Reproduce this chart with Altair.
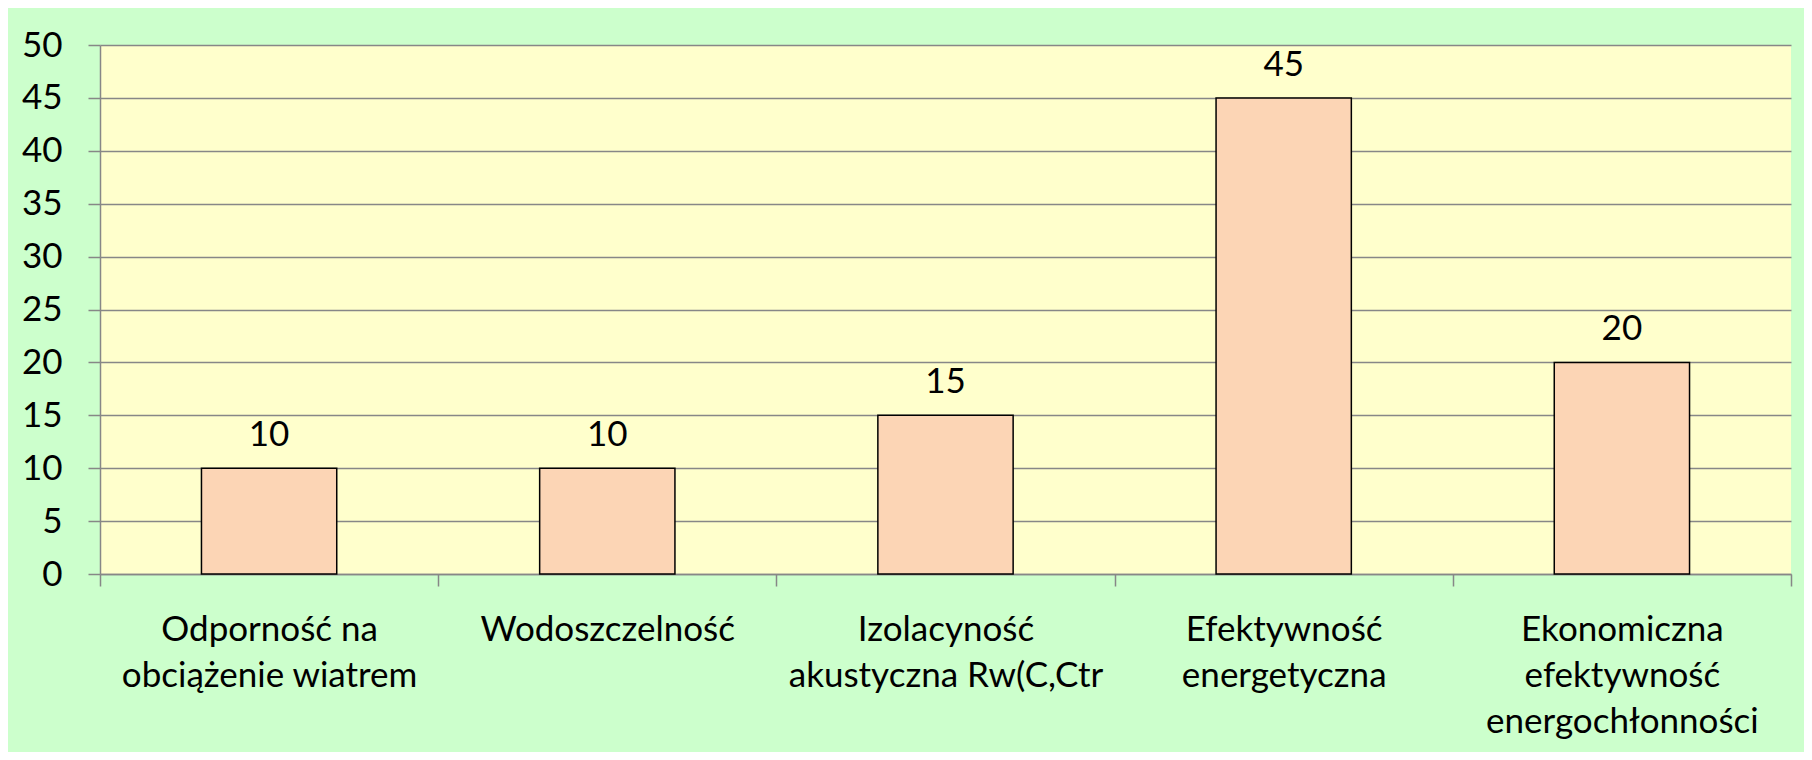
import altair as alt
import pandas as pd

categories = [
    "Odporność na\nobciążenie wiatrem",
    "Wodoszczelność",
    "Izolacyność\nakustyczna Rw(C,Ctr",
    "Efektywność\nenergetyczna",
    "Ekonomiczna\nefektywność\nenergochłonności",
]
values = [10, 10, 15, 45, 20]
y_ticks = [0, 5, 10, 15, 20, 25, 30, 35, 40, 45, 50]

df = pd.DataFrame({"cat": categories, "val": values})

FONT = "Lato"
GRID = "#878787"

x_enc = alt.X(
    "cat:N",
    sort=None,
    title=None,
    scale=alt.Scale(paddingInner=0, paddingOuter=0),
    axis=alt.Axis(
        labelAngle=0,
        labelExpr="split(datum.label, '\\n')",
        labelFont=FONT,
        labelFontSize=35,
        labelColor="#000000",
        labelLineHeight=46,
        labelBaseline="alphabetic",
        labelPadding=54,
        labelLimit=0,
        tickBand="extent",
        tickSize=12,
        tickColor=GRID,
        tickWidth=1.5,
        domainColor=GRID,
        domainWidth=1.5,
        grid=False,
    ),
)

y_enc = alt.Y(
    "val:Q",
    title=None,
    scale=alt.Scale(domain=[0, 50], nice=False),
    axis=alt.Axis(
        values=y_ticks,
        labelFont=FONT,
        labelFontSize=35,
        labelColor="#000000",
        labelPadding=26,
        tickSize=12,
        tickColor=GRID,
        tickWidth=1.5,
        domainColor=GRID,
        domainWidth=1.5,
        grid=True,
        gridColor=GRID,
        gridWidth=1.5,
    ),
)

bars = alt.Chart(df).mark_bar(
    width=alt.RelativeBandSize(0.4),
    fill="#FCD5B5",
    stroke="#000000",
    strokeWidth=1.5,
).encode(x=x_enc, y=y_enc)

labels = alt.Chart(df).mark_text(
    font=FONT,
    fontSize=35,
    color="#000000",
    baseline="alphabetic",
    dy=-22,
).encode(x=alt.X("cat:N", sort=None), y=alt.Y("val:Q"), text=alt.Text("val:Q"))

chart = (
    alt.layer(bars, labels)
    .properties(
        width=1691,
        height=529,
        autosize=alt.AutoSizeParams(type="none"),
        padding={"left": 92, "top": 37, "right": 13, "bottom": 178},
        background="#CCFFCC",
    )
    .configure_view(fill="#FFFFCC", stroke=None)
)

chart.save("out.html", embed_options={"renderer": "svg", "actions": False})
